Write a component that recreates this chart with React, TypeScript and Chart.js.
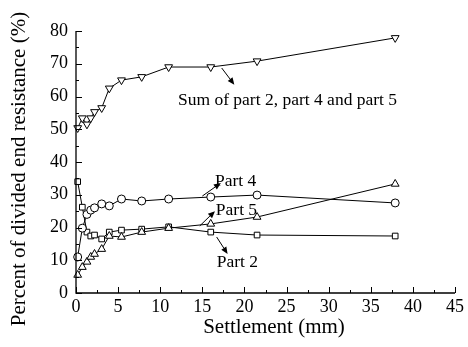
import React, { useEffect, useRef } from "react";
import { Chart, registerables } from "chart.js";

Chart.register(...registerables);

// ---- data ----
const settlement = [0.2, 0.75, 1.3, 1.75, 2.2, 3.05, 3.95, 5.4, 7.8, 11.0, 16.0, 21.5, 37.9];
const part2 = [34.0, 26.2, 18.6, 17.4, 17.7, 16.5, 18.6, 19.2, 19.5, 20.2, 18.6, 17.7, 17.4];
const part4 = [11.0, 19.8, 24.0, 25.3, 26.0, 27.2, 26.6, 28.7, 28.1, 28.7, 29.3, 29.9, 27.5];
const part5 = [5.5, 7.9, 9.5, 11.0, 11.9, 13.4, 17.4, 17.1, 18.6, 19.8, 21.1, 23.2, 33.3];
const sumParts = [50.4, 53.4, 51.5, 53.4, 55.3, 56.5, 62.5, 65.0, 66.0, 69.0, 69.0, 70.8, 77.9];

const xTitle = "Settlement (mm)";
const yTitle = "Percent of divided end resistance (%)";

const labelTexts = ["Sum of part 2, part 4 and part 5", "Part 4", "Part 5", "Part 2"];
const labelX = [12.1, 16.5, 16.6, 16.7];
const labelY = [58.9, 34.2, 25.2, 9.2];
const arrowFromX = [17.3, 15.0, 14.7, 16.7];
const arrowFromY = [68.7, 29.6, 20.5, 17.1];
const arrowToX = [18.8, 17.2, 16.5, 18.0];
const arrowToY = [63.6, 33.6, 25.0, 11.9];

const FONT = "'Liberation Serif', 'Times New Roman', serif";

const pts = (ys: number[]) => settlement.map((x, i) => ({ x, y: ys[i] }));

export default function App() {
  const ref = useRef<HTMLCanvasElement | null>(null);

  useEffect(() => {
    document.body.style.margin = "0";
    const canvas = ref.current;
    if (!canvas) return;

    const decor = {
      id: "decor",
      afterDraw(chart: any) {
        const ctx = chart.ctx as CanvasRenderingContext2D;
        const xs = chart.scales.x;
        const ys = chart.scales.y;
        const L = xs.left;
        const R = xs.right;
        const T = ys.top;
        const B = ys.bottom;
        ctx.save();
        ctx.strokeStyle = "#000";
        ctx.lineWidth = 1.3;
        ctx.beginPath();
        ctx.moveTo(L, T);
        ctx.lineTo(L, B);
        ctx.lineTo(R, B);
        ctx.stroke();
        ctx.lineWidth = 1;
        ctx.beginPath();
        for (let v = 0; v <= 80; v += 5) {
          const y = Math.round(ys.getPixelForValue(v)) + 0.5;
          const len = v % 10 === 0 ? 6 : 3;
          ctx.moveTo(L, y);
          ctx.lineTo(L + len, y);
        }
        for (let v = 0; v <= 45; v += 2.5) {
          const x = Math.round(xs.getPixelForValue(v)) + 0.5;
          const len = v % 5 === 0 ? 6 : 3;
          ctx.moveTo(x, B);
          ctx.lineTo(x, B - len);
        }
        ctx.stroke();

        // annotations
        ctx.fillStyle = "#000";
        ctx.font = `17.5px ${FONT}`;
        ctx.textAlign = "left";
        ctx.textBaseline = "middle";
        labelTexts.forEach((t, i) => {
          ctx.fillText(t, xs.getPixelForValue(labelX[i]), ys.getPixelForValue(labelY[i]));
        });
        for (let i = 0; i < arrowFromX.length; i++) {
          const x1 = xs.getPixelForValue(arrowFromX[i]);
          const y1 = ys.getPixelForValue(arrowFromY[i]);
          const x2 = xs.getPixelForValue(arrowToX[i]);
          const y2 = ys.getPixelForValue(arrowToY[i]);
          const a = Math.atan2(y2 - y1, x2 - x1);
          const hl = 7;
          const hw = 3;
          const bx = x2 - hl * Math.cos(a);
          const by = y2 - hl * Math.sin(a);
          ctx.beginPath();
          ctx.moveTo(x1, y1);
          ctx.lineTo(bx, by);
          ctx.stroke();
          ctx.beginPath();
          ctx.moveTo(x2, y2);
          ctx.lineTo(bx + hw * Math.sin(a), by - hw * Math.cos(a));
          ctx.lineTo(bx - hw * Math.sin(a), by + hw * Math.cos(a));
          ctx.closePath();
          ctx.fill();
        }

        // axis titles
        ctx.font = `21px ${FONT}`;
        ctx.textAlign = "center";
        ctx.textBaseline = "middle";
        ctx.fillText(xTitle, 274, 327);
        ctx.save();
        ctx.translate(19, 169);
        ctx.rotate(-Math.PI / 2);
        ctx.fillText(yTitle, 0, 0);
        ctx.restore();
        ctx.restore();
      },
    };

    const common = {
      showLine: true,
      borderColor: "#000",
      borderWidth: 1,
      pointBackgroundColor: "#fff",
      pointBorderColor: "#000",
      pointBorderWidth: 1,
      clip: false as any,
    };

    const chart = new Chart(canvas, {
      type: "scatter",
      data: {
        datasets: [
          { ...common, label: "Sum", data: pts(sumParts), pointStyle: "triangle", rotation: 180, pointRadius: 4.5 },
          { ...common, label: "Part 4", data: pts(part4), pointStyle: "circle", pointRadius: 4 },
          { ...common, label: "Part 5", data: pts(part5), pointStyle: "triangle", pointRadius: 4.5 },
          { ...common, label: "Part 2", data: pts(part2), pointStyle: "rect", pointRadius: 4 },
        ],
      },
      options: {
        responsive: false,
        animation: false,
        layout: { padding: { top: 31, right: 13, left: 0, bottom: 0 } },
        plugins: { legend: { display: false }, tooltip: { enabled: false } },
        scales: {
          x: {
            type: "linear",
            min: 0,
            max: 45,
            grid: { display: false, drawTicks: false },
            border: { display: false },
            ticks: { stepSize: 5, color: "#000", padding: 3, maxRotation: 0, font: { family: FONT, size: 18 } },
            afterFit: (s: any) => { s.height = 54; },
          },
          y: {
            type: "linear",
            min: 0,
            max: 80,
            grid: { display: false, drawTicks: false },
            border: { display: false },
            ticks: { stepSize: 10, color: "#000", padding: 8, font: { family: FONT, size: 18 } },
            afterFit: (s: any) => { s.width = 76; },
          },
        },
      },
      plugins: [decor],
    });
    return () => chart.destroy();
  }, []);

  return (
    <div style={{ width: 468, height: 347, background: "#fff" }}>
      <canvas ref={ref} width={468} height={347} style={{ display: "block" }} />
    </div>
  );
}
